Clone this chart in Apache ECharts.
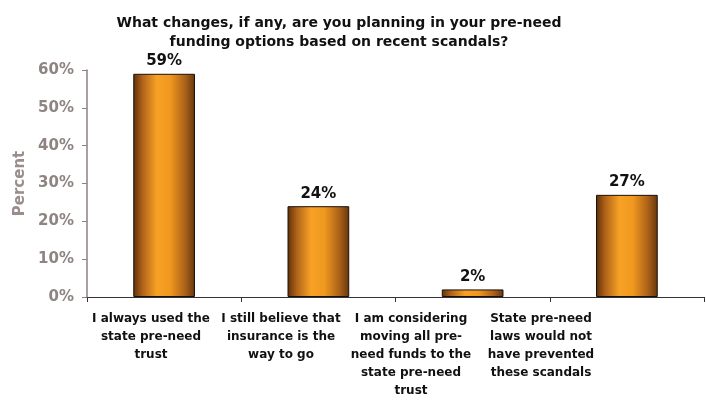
<!DOCTYPE html>
<html><head><meta charset="utf-8">
<script src="https://cdn.jsdelivr.net/npm/echarts@6/dist/echarts.min.js"></script>
<style>html,body{margin:0;padding:0;background:#fff}#c{width:706px;height:400px}</style>
</head><body><div id="c"></div>
<script>
const titleText = "What changes, if any, are you planning in your pre-need\nfunding options based on recent scandals?";
const categories = [
  "I always used the\nstate pre-need\ntrust",
  "I still believe that\ninsurance is the\nway to go",
  "I am considering\nmoving all pre-\nneed funds to the\nstate pre-need\ntrust",
  "State pre-need\nlaws would not\nhave prevented\nthese scandals"
];
const values = [59, 24, 2, 27];
const yTicks = [0, 10, 20, 30, 40, 50, 60];
const yAxisName = "Percent";

const chart = echarts.init(document.getElementById('c'));
const barGrad = new echarts.graphic.LinearGradient(0, 0, 1, 0, [
  {offset: 0, color: '#5e3008'},
  {offset: 0.15, color: '#b0631a'},
  {offset: 0.38, color: '#f7a125'},
  {offset: 0.6, color: '#f0981f'},
  {offset: 0.85, color: '#a85f18'},
  {offset: 1, color: '#643610'}
]);
chart.setOption({
  animation: false,
  textStyle: {fontFamily: 'DejaVu Sans'},
  title: {
    text: titleText, left: 334, top: 9, textAlign: 'center',
    textStyle: {fontFamily: 'DejaVu Sans', fontWeight: 'bold', fontSize: 14, color: '#111', lineHeight: 19}
  },
  grid: [
    {left: 87, right: 2, top: 70, bottom: 103},
    {left: 86, width: 520, top: 70, bottom: 103}
  ],
  xAxis: [{
    type: 'category', data: categories, gridIndex: 0,
    axisLine: {lineStyle: {color: '#333', width: 1}},
    axisTick: {show: true, length: 5, lineStyle: {color: '#333'}},
    axisLabel: {show: false}
  }, {
    type: 'category', data: categories, gridIndex: 1,
    axisLine: {show: false}, axisTick: {show: false},
    axisLabel: {interval: 0, fontFamily: 'DejaVu Sans', fontWeight: 'bold', fontSize: 12, color: '#111', lineHeight: 18, margin: 14}
  }],
  yAxis: [{
    type: 'value', gridIndex: 0, min: yTicks[0], max: yTicks[yTicks.length - 1], interval: 10,
    name: yAxisName, nameLocation: 'middle', nameGap: 59, nameRotate: 90,
    nameTextStyle: {fontFamily: 'DejaVu Sans', fontWeight: 'bold', fontSize: 15, color: '#9a8e8c'},
    axisLine: {show: true, lineStyle: {color: '#8c8080', width: 1.5}},
    axisTick: {show: true, length: 5, lineStyle: {color: '#8c8080'}},
    splitLine: {show: false},
    axisLabel: {formatter: '{value}%', fontFamily: 'DejaVu Sans', fontWeight: 'bold', fontSize: 15, color: '#8e8482', margin: 13}
  }, {
    type: 'value', gridIndex: 1, show: false, min: 0, max: 60
  }],
  series: [{
    type: 'bar', data: values, barWidth: '40%', xAxisIndex: 0, yAxisIndex: 0,
    itemStyle: {color: barGrad, borderColor: '#1a1008', borderWidth: 1},
    label: {show: true, position: 'top', formatter: '{c}%', fontFamily: 'DejaVu Sans', fontWeight: 'bold', fontSize: 15, color: '#111', distance: 5}
  }]
});
</script></body></html>
